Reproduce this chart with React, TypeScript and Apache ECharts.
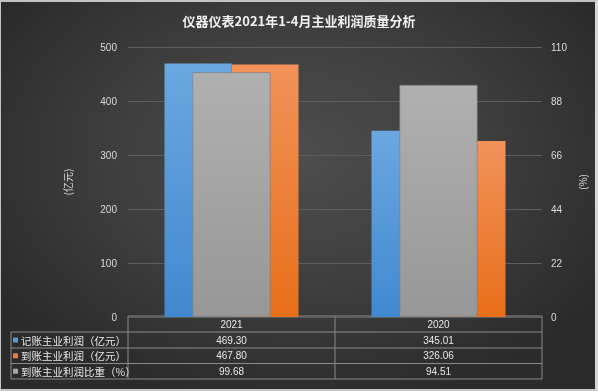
import React, { useEffect, useRef } from "react";
import * as echarts from "echarts";

const categories = ["2021", "2020"];
const bookedProfit = [469.3, 345.01];
const receivedProfit = [467.8, 326.06];
const receivedRatio = [99.68, 94.51];
const seriesNames = ["记账主业利润（亿元）", "到账主业利润（亿元）", "到账主业利润比重（%）"];
const leftTicks = { min: 0, max: 500, interval: 100 };
const rightTicks = { min: 0, max: 110, interval: 22 };
const title = "仪器仪表2021年1-4月主业利润质量分析";

const FONT = "'Liberation Sans', 'Noto Sans CJK SC', sans-serif";
const CJK = "'Noto Sans CJK SC', sans-serif";

export default function App() {
  const ref = useRef<HTMLDivElement>(null);
  useEffect(() => {
    if (!ref.current) return;
    const chart = echarts.init(ref.current, null, { renderer: "svg" });
    const gl = 128, gr = 542, gTop = 47, gBot = 317;
    const tableLeft = 11;
    const colW = (gr - gl) / categories.length;
    const rowH = [316, 332, 348, 363.5, 379];
    const lineColor = "#8a8a8a";
    const colors = ["#5b9bd5", "#ed7d31", "#a5a5a5"];
    const rows = [bookedProfit, receivedProfit, receivedRatio];
    const graphic: any[] = [];
    // table lines
    graphic.push({ type: "line", shape: { x1: gl, y1: rowH[0], x2: gr, y2: rowH[0] }, style: { stroke: lineColor, lineWidth: 1 } });
    for (let i = 1; i < rowH.length; i++) {
      graphic.push({ type: "line", shape: { x1: tableLeft, y1: rowH[i], x2: gr, y2: rowH[i] }, style: { stroke: lineColor, lineWidth: 1 } });
    }
    graphic.push({ type: "line", shape: { x1: tableLeft, y1: rowH[1], x2: tableLeft, y2: rowH[4] }, style: { stroke: lineColor, lineWidth: 1 } });
    for (let c = 0; c <= categories.length; c++) {
      const x = gl + c * colW;
      graphic.push({ type: "line", shape: { x1: x, y1: rowH[0], x2: x, y2: rowH[4] }, style: { stroke: lineColor, lineWidth: 1 } });
    }
    rows.forEach((vals, r) => {
      const cy = (rowH[r + 1] + rowH[r + 2]) / 2;
      graphic.push({ type: "rect", shape: { x: 13, y: cy - 2.5, width: 5, height: 5 }, style: { fill: colors[r] } });
      graphic.push({
        type: "text", x: 21, y: cy,
        style: { text: seriesNames[r], fill: "#e6e6e6", font: `10.5px ${CJK}`, verticalAlign: "middle", align: "left" },
      });
      vals.forEach((v, c) => {
        graphic.push({
          type: "text", x: gl + colW * (c + 0.5), y: cy,
          style: { text: v.toFixed(2), fill: "#e6e6e6", font: `10px ${FONT}`, verticalAlign: "middle", align: "center" },
        });
      });
    });

    const grad = (top: string, bottom: string) =>
      new echarts.graphic.LinearGradient(0, 0, 0, 1, [
        { offset: 0, color: top },
        { offset: 1, color: bottom },
      ]);

    chart.setOption({
      animation: false,
      title: {
        text: title, left: "center", top: 9,
        textStyle: { color: "#f0f0f0", fontSize: 13, fontWeight: "bold", fontFamily: CJK },
      },
      grid: { left: gl, right: 598 - gr, top: gTop, bottom: 391 - gBot, containLabel: false },
      xAxis: [
        {
          type: "category", data: categories,
          axisLine: { show: false }, axisTick: { show: false },
          axisLabel: { color: "#e6e6e6", fontSize: 10, fontFamily: FONT, margin: 2, verticalAlign: "top" },
        },
        { type: "category", data: categories, show: false },
      ],
      yAxis: [
        {
          type: "value", ...leftTicks, name: "(亿元)", nameLocation: "middle", nameGap: 56, nameRotate: 90,
          nameTextStyle: { color: "#d9d9d9", fontSize: 10, fontFamily: CJK },
          axisLabel: { color: "#d9d9d9", fontSize: 10, fontFamily: FONT, margin: 11 },
          splitLine: { lineStyle: { color: "#5e5e5e", width: 1 } },
          axisLine: { show: false }, axisTick: { show: false },
        },
        {
          type: "value", ...rightTicks, name: "(%)", nameLocation: "middle", nameGap: 35, nameRotate: 90,
          nameTextStyle: { color: "#d9d9d9", fontSize: 10, fontFamily: CJK },
          axisLabel: { color: "#d9d9d9", fontSize: 10, fontFamily: FONT, margin: 9 },
          splitLine: { show: false },
          axisLine: { show: false }, axisTick: { show: false },
        },
      ],
      series: [
        {
          name: seriesNames[0], type: "bar", data: bookedProfit, xAxisIndex: 0, yAxisIndex: 0,
          barWidth: 67, barGap: "0%", z: 2,
          itemStyle: { color: grad("#6ba7e1", "#4089d0") },
        },
        {
          name: seriesNames[1], type: "bar", data: receivedProfit, xAxisIndex: 0, yAxisIndex: 0,
          barWidth: 67, barGap: "0%", z: 2,
          itemStyle: { color: grad("#f1925a", "#e86f1a") },
        },
        {
          name: seriesNames[2], type: "bar", data: receivedRatio, xAxisIndex: 1, yAxisIndex: 1,
          barWidth: 78, z: 3,
          itemStyle: { color: grad("#b0b0b0", "#979797"), borderColor: "#7a7a7a", borderWidth: 0.6 },
        },
      ],
      graphic,
    });
    return () => chart.dispose();
  }, []);

  return (
    <div
      style={{
        position: "fixed", left: 0, top: 0, width: 598, height: 391, boxSizing: "border-box",
        borderTop: "2px solid #c4c4c4", borderLeft: "1px solid #c4c4c4",
        borderRight: "3px solid #d8d8d8", borderBottom: "2px solid #c8c8c8",
        background: "radial-gradient(ellipse 60% 65% at 50% 40%, #4d4d4d 0%, #3f3f3f 50%, #2b2b2b 100%)",
      }}
    >
      <div ref={ref} style={{ position: "absolute", left: -1, top: -2, width: 598, height: 391 }} />
    </div>
  );
}
